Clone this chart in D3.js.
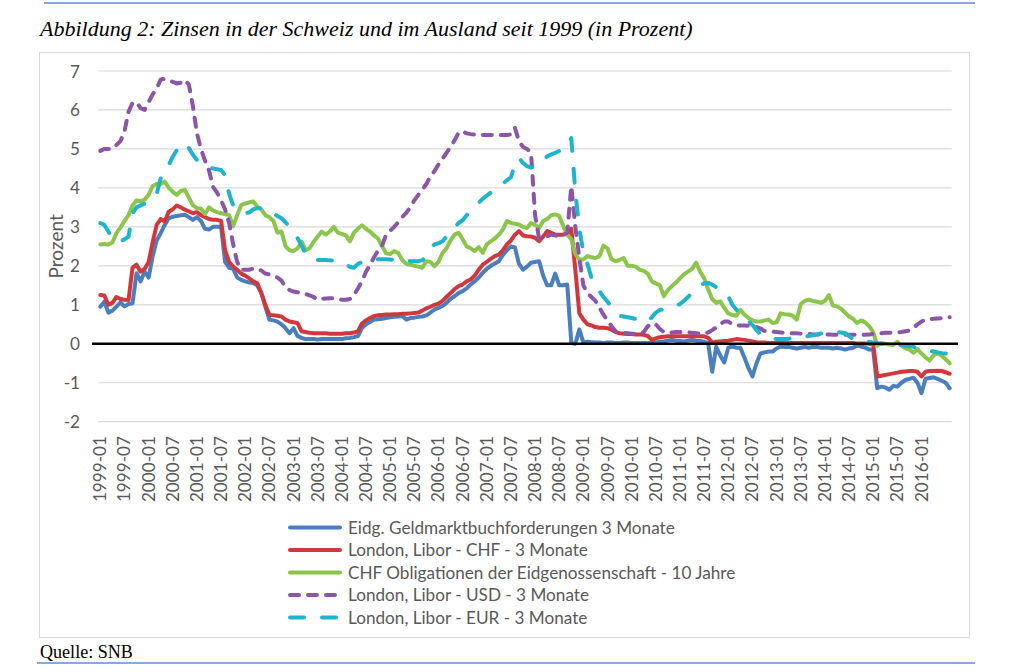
<!DOCTYPE html>
<html>
<head>
<meta charset="utf-8">
<script src="https://cdn.jsdelivr.net/npm/d3@7"></script>
<style>
  html, body { margin: 0; padding: 0; background: #fff; }
  svg { display: block; }
</style>
</head>
<body>
<svg id="chart"></svg>
<script>
// Monatswerte 1999-01 .. 2016-08 (eine Zeile pro Jahr)
const geldmarkt = [
  0.95, 1.08, 0.8, 0.85, 0.95, 1.06, 0.96, 1.02, 1.04, 1.81, 1.6, 1.85,
  1.7, 2.24, 2.65, 2.84, 3.05, 3.22, 3.26, 3.28, 3.3, 3.31, 3.25, 3.18,
  3.25, 3.15, 2.95, 2.93, 3.0, 3.0, 3.0, 2.1, 1.95, 1.92, 1.7, 1.64,
  1.6, 1.57, 1.56, 1.5, 1.3, 0.95, 0.62, 0.6, 0.57, 0.5, 0.4, 0.27,
  0.4, 0.2, 0.15, 0.12, 0.12, 0.12, 0.11, 0.12, 0.12, 0.12, 0.12, 0.12,
  0.12, 0.14, 0.15, 0.17, 0.2, 0.4, 0.5, 0.56, 0.62, 0.63, 0.64, 0.66,
  0.68, 0.69, 0.7, 0.71, 0.62, 0.66, 0.67, 0.69, 0.7, 0.73, 0.8, 0.88,
  0.92, 0.97, 1.05, 1.15, 1.22, 1.3, 1.35, 1.42, 1.52, 1.6, 1.7, 1.82,
  1.92, 2.0, 2.06, 2.12, 2.28, 2.4, 2.5, 2.47, 2.05, 1.9, 1.98, 2.08,
  2.1, 2.12, 1.75, 1.5, 1.5, 1.8, 1.5, 1.5, 1.52, 0.02, 0.0, 0.37,
  0.03, 0.05, 0.04, 0.03, 0.03, 0.02, 0.03, 0.03, 0.02, 0.02, 0.03, 0.03,
  0.02, 0.02, 0.02, 0.02, 0.02, 0.02, 0.03, 0.05, 0.06, 0.08, 0.1, 0.08,
  0.07, 0.06, 0.08, 0.1, 0.08, 0.07, 0.05, 0.02, -0.72, -0.08, -0.3, -0.48,
  -0.1, -0.07, -0.1, -0.1, -0.35, -0.62, -0.84, -0.5, -0.25, -0.22, -0.2, -0.2,
  -0.12, -0.07, -0.08, -0.08, -0.1, -0.12, -0.1, -0.08, -0.1, -0.08, -0.08, -0.1,
  -0.1, -0.1, -0.12, -0.1, -0.12, -0.15, -0.12, -0.1, -0.05, -0.07, -0.1, -0.15,
  -0.15, -1.14, -1.1, -1.12, -1.18, -1.08, -1.1, -1.0, -0.93, -0.9, -0.87, -1.0,
  -1.27, -0.9, -0.88, -0.86, -0.9, -0.95, -1.0, -1.14
];

const liborChf = [
  1.25, 1.24, 1.0, 1.05, 1.2, 1.15, 1.13, 1.12, 1.95, 2.03, 1.85, 1.92,
  2.1, 2.6, 3.05, 3.2, 3.14, 3.39, 3.45, 3.55, 3.5, 3.44, 3.4, 3.35,
  3.38, 3.3, 3.25, 3.2, 3.18, 3.18, 3.15, 2.4, 2.1, 1.98, 1.9, 1.8,
  1.75, 1.68, 1.6, 1.55, 1.3, 1.0, 0.74, 0.73, 0.72, 0.7, 0.62, 0.57,
  0.55, 0.53, 0.32, 0.3, 0.28, 0.27, 0.27, 0.27, 0.27, 0.26, 0.26, 0.26,
  0.26, 0.27, 0.27, 0.29, 0.32, 0.52, 0.6, 0.66, 0.71, 0.73, 0.74, 0.75,
  0.75, 0.76, 0.76, 0.77, 0.77, 0.78, 0.79, 0.8, 0.85, 0.91, 0.95, 1.0,
  1.03, 1.1, 1.2, 1.3, 1.4, 1.48, 1.52, 1.6, 1.65, 1.75, 1.9, 2.03,
  2.1, 2.18, 2.25, 2.29, 2.4, 2.55, 2.65, 2.8, 2.89, 2.78, 2.76, 2.75,
  2.72, 2.63, 2.75, 2.89, 2.85, 2.8, 2.8, 2.8, 2.82, 2.95, 1.9, 0.78,
  0.62, 0.5, 0.47, 0.43, 0.41, 0.41, 0.4, 0.36, 0.3, 0.27, 0.26, 0.25,
  0.25, 0.24, 0.24, 0.23, 0.2, 0.1, 0.14, 0.17, 0.18, 0.19, 0.19, 0.19,
  0.19, 0.19, 0.19, 0.19, 0.19, 0.19, 0.19, 0.15, 0.03, 0.05, 0.06, 0.07,
  0.08, 0.1, 0.12, 0.11, 0.1, 0.08, 0.06, 0.04, 0.03, 0.03, 0.02, 0.02,
  0.02, 0.02, 0.02, 0.02, 0.02, 0.02, 0.02, 0.02, 0.02, 0.02, 0.02, 0.02,
  0.02, 0.02, 0.02, 0.02, 0.02, 0.02, 0.02, 0.02, 0.01, 0.01, 0.01, 0.0,
  -0.02, -0.84, -0.82, -0.8, -0.78, -0.76, -0.74, -0.72, -0.71, -0.7, -0.7, -0.72,
  -0.84, -0.72, -0.7, -0.7, -0.69, -0.7, -0.73, -0.77
];

const obligationen = [
  2.55, 2.56, 2.55, 2.6, 2.84, 2.98, 3.15, 3.3, 3.55, 3.68, 3.65, 3.7,
  3.82, 4.05, 4.1, 4.1, 4.16, 4.0, 3.9, 3.82, 3.92, 3.95, 3.75, 3.55,
  3.48, 3.47, 3.33, 3.5, 3.42, 3.38, 3.35, 3.33, 3.3, 3.02, 3.3, 3.56,
  3.6, 3.63, 3.65, 3.52, 3.45, 3.3, 3.25, 3.15, 2.85, 2.88, 2.5, 2.4,
  2.38, 2.45, 2.62, 2.4, 2.45, 2.62, 2.75, 2.88, 2.8, 2.88, 3.0, 2.85,
  2.82, 2.78, 2.63, 2.85, 2.95, 3.04, 2.95, 2.88, 2.78, 2.7, 2.5, 2.32,
  2.3, 2.38, 2.33, 2.15, 2.05, 2.03, 2.0, 1.98, 1.95, 2.12, 2.1, 1.99,
  2.1, 2.33, 2.45, 2.65, 2.8, 2.85, 2.68, 2.5, 2.45, 2.38, 2.48, 2.33,
  2.55, 2.63, 2.7, 2.8, 2.93, 3.15, 3.1, 3.08, 3.06, 3.0, 2.97, 3.1,
  3.05, 2.97, 3.15, 3.2, 3.3, 3.32, 3.28, 3.02, 2.8, 2.68, 2.3, 2.16,
  2.16, 2.25, 2.22, 2.2, 2.25, 2.52, 2.45, 2.17, 2.12, 2.15, 2.2, 2.0,
  2.0, 1.98, 1.9, 1.87, 1.8, 1.6, 1.55, 1.5, 1.22, 1.38, 1.48, 1.57,
  1.68, 1.78, 1.85, 1.92, 2.08, 1.85, 1.68, 1.4, 1.15, 1.05, 1.09, 0.92,
  0.78, 0.74, 0.72, 0.87, 0.75, 0.66, 0.6, 0.57, 0.57, 0.6, 0.62, 0.53,
  0.55, 0.78, 0.76, 0.75, 0.72, 0.62, 1.02, 1.1, 1.13, 1.1, 1.08, 1.05,
  1.1, 1.25, 0.98, 0.96, 0.9, 0.8, 0.7, 0.64, 0.53, 0.6, 0.55, 0.45,
  0.3, -0.05, 0.02, 0.0, -0.02, -0.03, 0.05, -0.05, -0.12, -0.15, -0.23, -0.14,
  -0.25, -0.35, -0.43, -0.3, -0.23, -0.31, -0.4, -0.5
];

const liborUsd = [
  4.95, 5.0, 5.0, 5.0, 5.1, 5.2, 5.45, 5.95, 6.18, 6.2, 6.05, 6.0,
  6.2, 6.4, 6.55, 6.78, 6.8, 6.77, 6.72, 6.68, 6.7, 6.77, 6.65, 6.1,
  5.4, 5.0, 4.7, 4.45, 4.03, 3.88, 3.68, 3.45, 3.1, 2.55, 2.1, 1.9,
  1.9, 1.9, 1.93, 1.92, 1.88, 1.8, 1.78, 1.75, 1.7, 1.62, 1.45, 1.38,
  1.34, 1.32, 1.3, 1.28, 1.24, 1.2, 1.13, 1.15, 1.16, 1.17, 1.17, 1.15,
  1.13, 1.13, 1.15, 1.25, 1.42, 1.6, 1.85, 2.02, 2.22, 2.4, 2.52, 2.8,
  2.9, 3.0, 3.12, 3.25, 3.36, 3.5, 3.68, 3.82, 3.95, 4.1, 4.3, 4.43,
  4.6, 4.75, 4.9, 5.05, 5.22, 5.42, 5.45, 5.4, 5.38, 5.37, 5.37, 5.36,
  5.36, 5.36, 5.35, 5.36, 5.36, 5.36, 5.37, 5.54, 5.2, 5.05, 5.0, 4.9,
  3.3, 2.7, 2.72, 2.76, 2.8, 2.78, 2.76, 2.8, 2.85, 4.05, 3.0, 2.2,
  1.5, 1.3, 1.2, 1.1, 0.92, 0.75, 0.6, 0.45, 0.32, 0.28, 0.28, 0.27,
  0.26, 0.26, 0.27, 0.3, 0.45, 0.52, 0.5, 0.38, 0.3, 0.29, 0.29, 0.3,
  0.3, 0.31, 0.3, 0.28, 0.27, 0.26, 0.26, 0.29, 0.35, 0.42, 0.5, 0.57,
  0.57, 0.5, 0.47, 0.47, 0.47, 0.46, 0.45, 0.43, 0.39, 0.33, 0.31, 0.31,
  0.3, 0.29, 0.28, 0.27, 0.27, 0.27, 0.26, 0.26, 0.25, 0.24, 0.24, 0.24,
  0.24, 0.24, 0.23, 0.23, 0.23, 0.23, 0.23, 0.23, 0.23, 0.23, 0.23, 0.24,
  0.25, 0.26, 0.27, 0.28, 0.28, 0.28, 0.29, 0.3, 0.32, 0.34, 0.4, 0.5,
  0.57, 0.62, 0.63, 0.64, 0.65, 0.66, 0.67, 0.68
];

const liborEur = [
  3.1, 3.05, 2.88, 2.7, 2.62, 2.63, 2.68, 2.75, 3.35, 3.5, 3.55, 3.6,
  3.68, 3.74, 3.84, 4.25, 4.45, 4.59, 4.8, 4.97, 5.08, 5.15, 5.02, 4.85,
  4.72, 4.62, 4.55, 4.52, 4.5, 4.48, 4.46, 4.32, 3.85, 3.55, 3.44, 3.38,
  3.35, 3.37, 3.45, 3.48, 3.48, 3.48, 3.42, 3.35, 3.28, 3.22, 3.12, 3.0,
  2.85, 2.71, 2.52, 2.3, 2.2, 2.16, 2.15, 2.15, 2.15, 2.14, 2.13, 2.12,
  2.1, 2.05, 1.97, 1.95, 2.05, 2.1, 2.14, 2.15, 2.16, 2.17, 2.17, 2.17,
  2.16, 2.15, 2.14, 2.14, 2.13, 2.12, 2.12, 2.12, 2.14, 2.25, 2.45, 2.55,
  2.58, 2.63, 2.75, 2.88, 2.98, 3.1, 3.17, 3.3, 3.42, 3.52, 3.62, 3.72,
  3.8, 3.88, 3.95, 4.02, 4.1, 4.2, 4.27, 4.6, 4.77, 4.64, 4.56, 4.52,
  4.56, 4.6, 4.7, 4.81, 4.86, 4.9, 4.95, 4.98, 5.05, 5.28, 3.9, 2.95,
  2.35, 2.05, 1.7, 1.5, 1.35, 1.2, 1.08, 0.95, 0.8, 0.72, 0.7, 0.68,
  0.66, 0.64, 0.63, 0.6, 0.57, 0.68, 0.8, 0.87, 0.88, 0.9, 0.92, 0.98,
  1.02, 1.1, 1.2, 1.3, 1.42, 1.5, 1.55, 1.56, 1.52, 1.45, 1.38, 1.3,
  1.22, 1.0, 0.88, 0.75, 0.66, 0.58, 0.48, 0.35, 0.25, 0.19, 0.16, 0.14,
  0.12, 0.12, 0.12, 0.13, 0.14, 0.15, 0.16, 0.18, 0.2, 0.22, 0.24, 0.26,
  0.27, 0.28, 0.29, 0.3, 0.29, 0.27, 0.2, 0.12, 0.1, 0.08, 0.06, 0.05,
  0.03, 0.02, 0.0, -0.01, -0.02, -0.03, -0.03, -0.04, -0.05, -0.06, -0.08, -0.12,
  -0.14, -0.16, -0.18, -0.2, -0.22, -0.24, -0.25, -0.27
];

const seriesNames = [
  "Eidg. Geldmarktbuchforderungen 3 Monate",
  "London, Libor - CHF - 3 Monate",
  "CHF Obligationen der Eidgenossenschaft - 10 Jahre",
  "London, Libor - USD - 3 Monate",
  "London, Libor - EUR - 3 Monate"
];
const seriesValues = [geldmarkt, liborChf, obligationen, liborUsd, liborEur];

// Kategorien: Monate; beschriftet wird jeder 6. Monat bis 2016-01
const fmtMonth = d3.timeFormat("%Y-%m");
const months = d3.timeMonth.range(new Date(1999, 0, 1), new Date(2016, 8, 1)).map(fmtMonth);
const tickLabels = months.filter((d, i) => i % 6 === 0 && d <= "2016-01");
const yTicks = [-2, -1, 0, 1, 2, 3, 4, 5, 6, 7];

const styles = [
  { color: "#4a7ebf", dash: null },
  { color: "#d0383e", dash: null },
  { color: "#8cc54c", dash: null },
  { color: "#8b55a8", dash: "9,9" },
  { color: "#1db4cc", dash: "14,18" }
];

const W = 1009, H = 672;
const svg = d3.select("#chart").attr("width", W).attr("height", H);

// measure a string at 100px and scale to target width
function fitSize(text, family, style, target) {
  const t = svg.append("text")
    .style("font-family", family).style("font-style", style)
    .style("font-size", "100px").text(text);
  const w = t.node().getComputedTextLength();
  t.remove();
  return 100 * target / w;
}

function draw() {
  const sans = "Lato, 'Open Sans', sans-serif";
  const serif = "'Liberation Serif', 'DejaVu Serif', serif";
  const base = fitSize(seriesNames[0], sans, "normal", 327);
  const titleText = "Abbildung 2: Zinsen in der Schweiz und im Ausland seit 1999 (in Prozent)";
  const titleSize = fitSize(titleText, serif, "italic", 653);
  const quelleSize = fitSize("Quelle: SNB", serif, "normal", 93);

  // page decoration
  svg.append("line").attr("x1", 44).attr("x2", 975).attr("y1", 3).attr("y2", 3)
    .attr("stroke", "#5b8fd3").attr("stroke-width", 1.5);
  svg.append("text").attr("x", 40).attr("y", 36).text(titleText)
    .style("font-family", serif).style("font-style", "italic")
    .style("font-size", titleSize + "px").attr("fill", "#000");

  svg.append("rect").attr("x", 39.5).attr("y", 52.5).attr("width", 930).attr("height", 585)
    .attr("fill", "#fff").attr("stroke", "#d9d9d9").attr("stroke-width", 1);

  svg.append("text").attr("x", 40).attr("y", 658).text("Quelle: SNB")
    .style("font-family", serif).style("font-size", quelleSize + "px").attr("fill", "#000");
  svg.append("line").attr("x1", 37).attr("x2", 975).attr("y1", 663).attr("y2", 663)
    .attr("stroke", "#5b8fd3").attr("stroke-width", 1.5);

  // scales
  const plot = { left: 98.3, right: 951.7, top: 71, bottom: 421.7 };
  const x = d3.scaleBand().domain(months).range([plot.left, plot.right]);
  const xc = d => x(d) + x.bandwidth() / 2;
  const y = d3.scaleLinear().domain([-2, 7]).range([plot.bottom, plot.top]);

  // gridlines
  svg.append("g").selectAll("line").data(yTicks.filter(d => d !== 0)).join("line")
    .attr("x1", plot.left).attr("x2", plot.right)
    .attr("y1", d => y(d)).attr("y2", d => y(d))
    .attr("stroke", "#d9d9d9").attr("stroke-width", 1.2);

  // y axis labels (hyphen-minus like the original)
  const yAxis = d3.axisLeft(y).tickValues(yTicks).tickFormat(d => String(d))
    .tickSize(0).tickPadding(0);
  svg.append("g").attr("transform", `translate(80,0)`).call(yAxis)
    .call(g => g.select(".domain").remove())
    .call(g => g.selectAll("text")
      .style("font-family", sans).style("font-size", base + "px")
      .attr("fill", "#595959").attr("dy", "0.35em").attr("x", 0));

  svg.append("text")
    .attr("transform", `translate(63,${(y(7) + y(-2)) / 2}) rotate(-90)`)
    .attr("text-anchor", "middle").text("Prozent")
    .style("font-family", sans).style("font-size", (base * 1.11) + "px").attr("fill", "#595959");

  // x axis labels (rotated)
  const xAxis = d3.axisBottom(x).tickValues(tickLabels).tickSize(0).tickPadding(0);
  svg.append("g").attr("transform", `translate(0,436)`).call(xAxis)
    .call(g => g.select(".domain").remove())
    .call(g => g.selectAll("text")
      .style("font-family", sans).style("font-size", base + "px")
      .attr("fill", "#595959")
      .attr("text-anchor", "end").attr("transform", "rotate(-90)")
      .attr("x", 0).attr("y", 0).attr("dy", "0.35em"));

  // series
  const line = d3.line().x((d, i) => xc(months[i])).y(d => y(d));
  seriesValues.forEach((vals, k) => {
    svg.append("path").datum(vals).attr("d", line)
      .attr("fill", "none").attr("stroke", styles[k].color).attr("stroke-width", 4)
      .attr("stroke-linejoin", "round").attr("stroke-linecap", "round")
      .attr("stroke-dasharray", styles[k].dash);
  });

  // zero axis line
  svg.append("line").attr("x1", 92).attr("x2", 958).attr("y1", y(0)).attr("y2", y(0))
    .attr("stroke", "#000").attr("stroke-width", 2.6);

  // legend
  const legend = svg.append("g").selectAll("g").data(seriesNames).join("g")
    .attr("transform", (d, i) => `translate(0,${527.5 + i * 22.5})`);
  legend.append("line").attr("x1", 290).attr("x2", 340).attr("y1", 0).attr("y2", 0)
    .attr("stroke", (d, i) => styles[i].color).attr("stroke-width", 4)
    .attr("stroke-linecap", "round")
    .attr("stroke-dasharray", (d, i) => styles[i].dash);
  legend.append("text").attr("x", 348).attr("y", 0).attr("dy", "0.35em").text(d => d)
    .style("font-family", sans).style("font-size", base + "px").attr("fill", "#595959");
}

if (document.fonts && document.fonts.ready) document.fonts.ready.then(draw); else draw();
</script>
</body>
</html>
